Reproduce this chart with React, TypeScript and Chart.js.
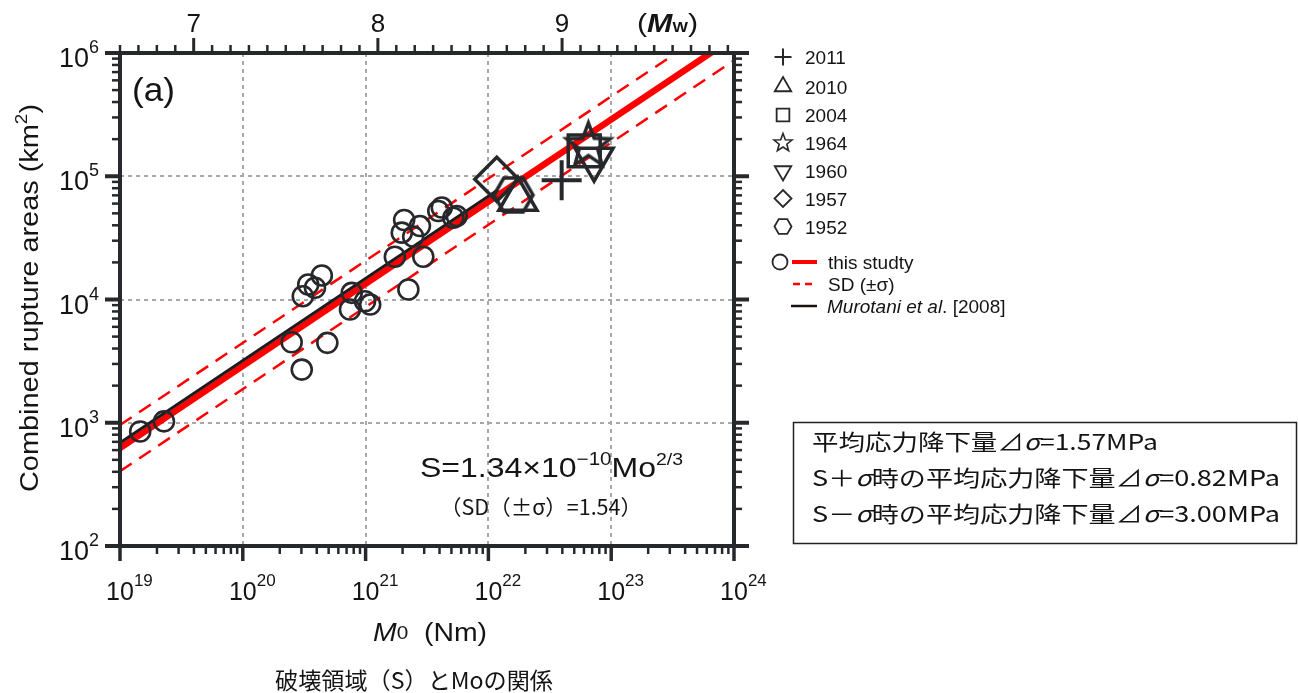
import React, { useEffect, useRef } from "react";
import { Chart, registerables } from "chart.js";

Chart.register(...registerables);

const CANVAS_W = 1298;
const CANVAS_H = 693;

// ---------- data ----------
// open circles: this study (M0 in Nm, combined rupture area in km^2)
const studyM0 = [
  1.46e19, 2.28e19, 2.5e20, 3.02e20, 4.88e20, 3.08e20, 3.41e20, 3.87e20,
  4.4e20, 7.71e20, 7.46e20, 9.89e20, 1.09e21, 1.73e21, 2.95e21, 2.23e21,
  2.06e21, 1.97e21, 2.77e21, 2.44e21, 3.91e21, 4.17e21, 5.18e21, 5.52e21,
];
const studyArea = [
  849, 1026, 4500, 2700, 4450, 10640, 13240, 12450,
  15670, 11320, 8300, 9680, 9100, 22230, 22230, 12050,
  44150, 34850, 39450, 32370, 52240, 55700, 46100, 47560,
];

// great events
const eventYears = ["2011", "2010", "2004", "1964", "1960", "1957", "1952"];
const eventM0 = [3.95e22, 1.74e22, 6.03e22, 6.52e22, 7.25e22, 1.17e22, 1.6e22];
const eventArea = [92700, 65000, 160700, 176200, 137400, 94600, 70500];

// regression lines (end points)
const fitM0 = [1e19, 1e24];
const fitArea = [622, 1.34e6];
const sdPlusArea = [958, 2.06e6];
const sdMinusArea = [404, 8.7e5];
const murotaniM0 = [1e19, 1.2e22];
const murotaniArea = [687, 77600];

// axes
const xDecades = [19, 20, 21, 22, 23, 24];
const yDecades = [2, 3, 4, 5, 6];
const mwLabels = [7, 8, 9];
const mwTickFirst = 66; // Mw*10
const mwTickLast = 99;

// ---------- styles ----------
const SANS = '"Liberation Sans", Arial, Helvetica, sans-serif';
const CJK = '"Noto Sans CJK JP", "Noto Sans CJK SC", sans-serif';
const INK = "#26282c";
const TEXT = "#141414";
const RED = "#ff0000";
const GRID = "#a8a8a8";

const eventStyles = [
  { kind: "cross", r: 20, lw: 4 },
  { kind: "triangle", r: 22, lw: 3.5 },
  { kind: "rect", r: 22.6, lw: 3.5 },
  { kind: "star", r: 23, lw: 3.5 },
  { kind: "triangleDown", r: 22, lw: 3.5 },
  { kind: "diamond", r: 22, lw: 3.5 },
  { kind: "hexagon", r: 19.5, lw: 3.5 },
];

type Part = { t: string; font: string; dy?: number; color?: string };

function drawParts(
  ctx: CanvasRenderingContext2D,
  parts: Part[],
  x: number,
  y: number,
  align: "left" | "center" | "right",
  opts: { sx?: number; width?: number } = {}
) {
  ctx.save();
  ctx.textBaseline = "alphabetic";
  ctx.textAlign = "left";
  let total = 0;
  const widths = parts.map((p) => {
    ctx.font = p.font;
    const w = ctx.measureText(p.t).width;
    total += w;
    return w;
  });
  const sx = opts.width ? opts.width / total : opts.sx ?? 1;
  const w = total * sx;
  const x0 = align === "left" ? x : align === "center" ? x - w / 2 : x - w;
  ctx.translate(x0, y);
  ctx.scale(sx, 1);
  let cx = 0;
  parts.forEach((p, i) => {
    ctx.font = p.font;
    ctx.fillStyle = p.color ?? TEXT;
    ctx.fillText(p.t, cx, p.dy ?? 0);
    cx += widths[i];
  });
  ctx.restore();
}

function markerPath(ctx: CanvasRenderingContext2D, kind: string, x: number, y: number, r: number) {
  ctx.beginPath();
  if (kind === "circle") {
    ctx.arc(x, y, r, 0, Math.PI * 2);
  } else if (kind === "cross") {
    ctx.moveTo(x - r, y);
    ctx.lineTo(x + r, y);
    ctx.moveTo(x, y - r);
    ctx.lineTo(x, y + r);
  } else if (kind === "triangle" || kind === "triangleDown") {
    const s = kind === "triangle" ? 1 : -1;
    for (let i = 0; i < 3; i++) {
      const a = (i * 2 * Math.PI) / 3;
      const px = x + Math.sin(a) * r;
      const py = y - s * Math.cos(a) * r;
      if (i === 0) ctx.moveTo(px, py);
      else ctx.lineTo(px, py);
    }
    ctx.closePath();
  } else if (kind === "rect") {
    const h = r * Math.SQRT1_2;
    ctx.rect(x - h, y - h, 2 * h, 2 * h);
  } else if (kind === "diamond") {
    ctx.moveTo(x, y - r);
    ctx.lineTo(x + r, y);
    ctx.lineTo(x, y + r);
    ctx.lineTo(x - r, y);
    ctx.closePath();
  } else if (kind === "star") {
    for (let i = 0; i < 10; i++) {
      const a = -Math.PI / 2 + (i * Math.PI) / 5;
      const rr = i % 2 === 0 ? r : r * 0.42;
      const px = x + rr * Math.cos(a);
      const py = y + rr * Math.sin(a);
      if (i === 0) ctx.moveTo(px, py);
      else ctx.lineTo(px, py);
    }
    ctx.closePath();
  } else if (kind === "hexagon") {
    for (let i = 0; i < 6; i++) {
      const a = (i * Math.PI) / 3;
      const px = x + r * Math.cos(a);
      const py = y + r * Math.sin(a);
      if (i === 0) ctx.moveTo(px, py);
      else ctx.lineTo(px, py);
    }
    ctx.closePath();
  }
}

function drawMarker(ctx: CanvasRenderingContext2D, kind: string, x: number, y: number, r: number, lw: number) {
  ctx.save();
  ctx.strokeStyle = INK;
  ctx.lineWidth = lw;
  ctx.lineJoin = "miter";
  ctx.setLineDash([]);
  markerPath(ctx, kind, x, y, r);
  ctx.stroke();
  ctx.restore();
}

function markerCanvas(kind: string, r: number, lw: number): HTMLCanvasElement {
  const size = Math.ceil(2 * r + 2 * lw + 4);
  const c = document.createElement("canvas");
  c.width = size;
  c.height = size;
  const g = c.getContext("2d")!;
  drawMarker(g, kind, size / 2, size / 2, r, lw);
  return c;
}

function line(ctx: CanvasRenderingContext2D, x1: number, y1: number, x2: number, y2: number) {
  ctx.beginPath();
  ctx.moveTo(x1, y1);
  ctx.lineTo(x2, y2);
  ctx.stroke();
}

const decorPlugin = {
  id: "decor",
  beforeDatasetsDraw(chart: any) {
    const { ctx, chartArea: a, scales } = chart;
    const xs = scales.x;
    const ys = scales.y;
    ctx.save();
    ctx.strokeStyle = GRID;
    ctx.lineWidth = 2;
    ctx.setLineDash([4, 4]);
    xDecades.slice(1, -1).forEach((d) => {
      const px = Math.round(xs.getPixelForValue(Math.pow(10, d)));
      line(ctx, px, a.top, px, a.bottom);
    });
    yDecades.slice(1, -1).forEach((d) => {
      const py = Math.round(ys.getPixelForValue(Math.pow(10, d)));
      line(ctx, a.left, py, a.right, py);
    });
    ctx.restore();
  },
  afterDatasetsDraw(chart: any) {
    const { ctx, chartArea: a, scales } = chart;
    const xs = scales.x;
    const ys = scales.y;
    ctx.save();
    ctx.strokeStyle = INK;
    ctx.setLineDash([]);
    ctx.lineCap = "butt";

    // frame
    ctx.lineWidth = 4;
    ctx.strokeRect(a.left, a.top, a.right - a.left, a.bottom - a.top);

    // y ticks (left & right)
    yDecades.forEach((d, i) => {
      const py = ys.getPixelForValue(Math.pow(10, d));
      ctx.lineWidth = 4;
      line(ctx, a.left - 15, py, a.left, py);
      line(ctx, a.right, py, a.right + 15, py);
      if (i < yDecades.length - 1) {
        ctx.lineWidth = 2.5;
        for (let m = 2; m <= 9; m++) {
          const pm = ys.getPixelForValue(m * Math.pow(10, d));
          line(ctx, a.left - 8, pm, a.left, pm);
          line(ctx, a.right, pm, a.right + 8, pm);
        }
      }
    });
    // x ticks (bottom)
    xDecades.forEach((d, i) => {
      const px = xs.getPixelForValue(Math.pow(10, d));
      ctx.lineWidth = 3.5;
      line(ctx, px, a.bottom, px, a.bottom + 15);
      if (i < xDecades.length - 1) {
        ctx.lineWidth = 2.5;
        for (let m = 2; m <= 9; m++) {
          const pm = xs.getPixelForValue(m * Math.pow(10, d));
          line(ctx, pm, a.bottom, pm, a.bottom + 8);
        }
      }
    });
    // Mw ticks (top)
    for (let k = mwTickFirst; k <= mwTickLast; k++) {
      const mw = k / 10;
      const px = xs.getPixelForValue(Math.pow(10, 1.5 * mw + 9.1));
      const major = k % 10 === 0;
      ctx.lineWidth = major ? 3 : 2.5;
      line(ctx, px, a.top, px, a.top - (major ? 15 : 8));
    }
    ctx.restore();

    // tick labels
    xDecades.forEach((d) => {
      const px = xs.getPixelForValue(Math.pow(10, d));
      ctx.save();
      ctx.font = `25px ${SANS}`;
      const w10 = ctx.measureText("10").width;
      ctx.restore();
      drawParts(ctx, [
        { t: "10", font: `25px ${SANS}` },
        { t: String(d), font: `17px ${SANS}`, dy: -14 },
      ], px - w10 / 2, a.bottom + 54, "left");
    });
    yDecades.forEach((d) => {
      const py = ys.getPixelForValue(Math.pow(10, d));
      drawParts(ctx, [
        { t: "10", font: `27px ${SANS}` },
        { t: String(d), font: `18px ${SANS}`, dy: -14 },
      ], 99, py + 14, "right");
    });
    mwLabels.forEach((mw) => {
      const px = xs.getPixelForValue(Math.pow(10, 1.5 * mw + 9.1));
      drawParts(ctx, [{ t: String(mw), font: `26px ${SANS}` }], px, 32, "center");
    });
    drawParts(ctx, [
      { t: "(", font: `26px ${SANS}` },
      { t: "M", font: `italic bold 26px ${SANS}` },
      { t: "W", font: `bold 14px ${SANS}`, dy: 0 },
      { t: ")", font: `26px ${SANS}` },
    ], 637, 32, "left", { width: 61 });

    // panel label
    drawParts(ctx, [{ t: "(a)", font: `33px ${SANS}` }], 132, 101, "left", { width: 43 });

    // axis titles
    ctx.save();
    ctx.translate(38, 298);
    ctx.rotate(-Math.PI / 2);
    drawParts(ctx, [
      { t: "Combined rupture areas (km", font: `26px ${SANS}` },
      { t: "2", font: `17px ${SANS}`, dy: -11 },
      { t: ")", font: `26px ${SANS}` },
    ], 0, 0, "center", { width: 388 });
    ctx.restore();

    drawParts(ctx, [
      { t: "M", font: `italic 26px ${SANS}` },
      { t: "0", font: `19px ${SANS}`, dy: -2 },
      { t: "  (Nm)", font: `26px ${SANS}` },
    ], 373, 641, "left", { width: 114 });

    // equation
    drawParts(ctx, [
      { t: "S=1.34\u00d710", font: `28px ${SANS}` },
      { t: "\u221210", font: `18px ${SANS}`, dy: -12 },
      { t: "Mo", font: `28px ${SANS}` },
      { t: "2/3", font: `17px ${SANS}`, dy: -12 },
    ], 420, 477, "left", { width: 263 });
    drawParts(ctx, [{ t: "\uff08SD\uff08\u00b1\u03c3\uff09=1.54\uff09", font: `21px ${CJK}` }], 440, 515, "left", { width: 202 });

    // caption
    drawParts(ctx, [{ t: "破壊領域\uff08S\uff09とMoの関係", font: `23px ${CJK}` }], 275, 689, "left", { width: 278 });

    // legend
    const lx = 783;
    const rows = [57, 86.5, 115, 143, 171, 198.5, 226.5];
    const legendKinds = [
      { kind: "cross", r: 8.5, lw: 2 },
      { kind: "triangle", r: 9.5, lw: 1.8 },
      { kind: "rect", r: 9, lw: 1.8 },
      { kind: "star", r: 9.5, lw: 1.6 },
      { kind: "triangleDown", r: 9.5, lw: 1.8 },
      { kind: "diamond", r: 8.5, lw: 1.8 },
      { kind: "hexagon", r: 8.5, lw: 1.8 },
    ];
    eventYears.forEach((yr, i) => {
      const k = legendKinds[i];
      drawMarker(ctx, k.kind, lx, rows[i], k.r, k.lw);
      drawParts(ctx, [{ t: yr, font: `19px ${SANS}` }], 805, rows[i] + 7, "left");
    });
    drawMarker(ctx, "circle", 780, 262, 7.5, 1.8);
    ctx.save();
    ctx.strokeStyle = RED;
    ctx.lineWidth = 4;
    line(ctx, 792, 262, 817, 262);
    ctx.lineWidth = 2.5;
    ctx.setLineDash([7, 5]);
    line(ctx, 793, 284, 817, 284);
    ctx.setLineDash([]);
    ctx.strokeStyle = "#1a1010";
    ctx.lineWidth = 2.5;
    line(ctx, 791, 306, 817, 306);
    ctx.restore();
    drawParts(ctx, [{ t: "this studty", font: `19px ${SANS}` }], 828, 269, "left");
    drawParts(ctx, [{ t: "SD (\u00b1\u03c3)", font: `19px ${SANS}` }], 828, 291, "left");
    drawParts(ctx, [
      { t: "Murotani et al", font: `italic 19px ${SANS}` },
      { t: ". [2008]", font: `19px ${SANS}` },
    ], 827, 313, "left");

    // stress drop box
    ctx.save();
    ctx.strokeStyle = "#222";
    ctx.lineWidth = 1.5;
    ctx.strokeRect(793.5, 422.5, 503, 121);
    ctx.restore();
    drawParts(ctx, [
      { t: "平均応力降下量\u22bf", font: `22px ${CJK}` },
      { t: "\u03c3", font: `italic 22px ${CJK}` },
      { t: "=1.57MPa", font: `22px ${CJK}` },
    ], 812, 450, "left", { width: 346 });
    drawParts(ctx, [
      { t: "S\uff0b", font: `22px ${CJK}` },
      { t: "\u03c3", font: `italic 22px ${CJK}` },
      { t: "時の平均応力降下量\u22bf", font: `22px ${CJK}` },
      { t: "\u03c3", font: `italic 22px ${CJK}` },
      { t: "=0.82MPa", font: `22px ${CJK}` },
    ], 812, 486, "left", { width: 468 });
    drawParts(ctx, [
      { t: "S\uff0d", font: `22px ${CJK}` },
      { t: "\u03c3", font: `italic 22px ${CJK}` },
      { t: "時の平均応力降下量\u22bf", font: `22px ${CJK}` },
      { t: "\u03c3", font: `italic 22px ${CJK}` },
      { t: "=3.00MPa", font: `22px ${CJK}` },
    ], 812, 522, "left", { width: 468 });
  },
};

function pts(xs: number[], ys: number[]) {
  return xs.map((x, i) => ({ x, y: ys[i] }));
}

export default function App() {
  const ref = useRef<HTMLCanvasElement>(null);

  useEffect(() => {
    const canvas = ref.current;
    if (!canvas) return;

    const eventDatasets = eventYears.map((yr, i) => {
      const s = eventStyles[i];
      let pointStyle: any = s.kind;
      let rotation = 0;
      if (s.kind === "diamond") pointStyle = "rectRot";
      if (s.kind === "triangleDown") {
        pointStyle = "triangle";
        rotation = 180;
      }
      if (s.kind === "star" || s.kind === "hexagon") pointStyle = markerCanvas(s.kind, s.r, s.lw);
      return {
        label: yr,
        data: [{ x: eventM0[i], y: eventArea[i] }],
        pointStyle,
        pointRotation: rotation,
        pointRadius: s.r,
        pointBorderWidth: s.lw,
        pointBorderColor: INK,
        pointBackgroundColor: "rgba(0,0,0,0)",
        showLine: false,
        order: 1,
      };
    });

    const chart = new Chart(canvas, {
      type: "scatter",
      data: {
        datasets: [
          ...eventDatasets,
          {
            label: "this study (data)",
            data: pts(studyM0, studyArea),
            pointStyle: "circle",
            pointRadius: 10,
            pointBorderWidth: 2.6,
            pointBorderColor: INK,
            pointBackgroundColor: "rgba(0,0,0,0)",
            showLine: false,
            order: 2,
          },
          {
            label: "Murotani et al. [2008]",
            data: pts(murotaniM0, murotaniArea),
            showLine: true,
            borderColor: "#1c1c1e",
            borderWidth: 3,
            pointRadius: 0,
            order: 3,
          },
          {
            label: "this study",
            data: pts(fitM0, fitArea),
            showLine: true,
            borderColor: RED,
            borderWidth: 6.5,
            pointRadius: 0,
            order: 4,
          },
          {
            label: "SD +",
            data: pts(fitM0, sdPlusArea),
            showLine: true,
            borderColor: RED,
            borderWidth: 2.5,
            borderDash: [14, 9],
            pointRadius: 0,
            order: 5,
          },
          {
            label: "SD -",
            data: pts(fitM0, sdMinusArea),
            showLine: true,
            borderColor: RED,
            borderWidth: 2.5,
            borderDash: [14, 9],
            pointRadius: 0,
            order: 5,
          },
        ] as any,
      },
      options: {
        responsive: false,
        animation: false,
        devicePixelRatio: 1,
        events: [],
        layout: { padding: { left: 120, right: CANVAS_W - 734, top: 53, bottom: CANVAS_H - 546 } },
        plugins: { legend: { display: false }, tooltip: { enabled: false } },
        scales: {
          x: { type: "logarithmic", min: 1e19, max: 1e24, display: false },
          y: { type: "logarithmic", min: 1e2, max: 1e6, display: false },
        },
      },
      plugins: [decorPlugin],
    } as any);

    return () => chart.destroy();
  }, []);

  return (
    <div style={{ position: "fixed", left: 0, top: 0, width: CANVAS_W, height: CANVAS_H, background: "#fff" }}>
      <canvas ref={ref} width={CANVAS_W} height={CANVAS_H} style={{ display: "block", width: CANVAS_W, height: CANVAS_H }} />
    </div>
  );
}
